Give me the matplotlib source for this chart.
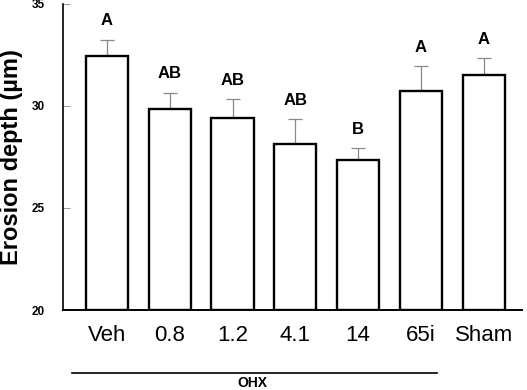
import matplotlib.pyplot as plt

groups = ["Veh", "0.8", "1.2", "4.1", "14", "65i", "Sham"]
depth = [32.45, 29.85, 29.4, 28.15, 27.35, 30.75, 31.5]
err = [0.8, 0.8, 0.95, 1.2, 0.6, 1.2, 0.85]
letters = ["A", "AB", "AB", "AB", "B", "A", "A"]

plt.rcParams["font.family"] = ["Liberation Sans", "DejaVu Sans"]

fig = plt.figure(figsize=(5.27, 3.90), dpi=100)
ax = fig.add_axes([0.1195, 0.205, 0.871, 0.785])

x = range(len(groups))
ax.bar(x, [d - 20 for d in depth], bottom=20, width=0.67,
       color="white", edgecolor="black", linewidth=1.7, zorder=2)
ax.errorbar(x, depth, yerr=[[0] * len(err), err], fmt="none",
            ecolor="#888888", elinewidth=0.9, capsize=5, capthick=0.9, zorder=1)

for i, (d, e, t) in enumerate(zip(depth, err, letters)):
    ax.text(i, d + e + 0.55, t, ha="center", va="bottom",
            fontsize=12, fontweight="bold")

ax.set_xlim(-0.70, 6.61)
ax.set_ylim(20, 35)
ax.set_yticks([20, 25, 30, 35])
ax.set_yticklabels(["20", "25", "30", "35"], fontsize=8.5, fontweight="bold")
ax.set_xticks(list(x))
ax.set_xticklabels(groups, fontsize=16)
ax.tick_params(axis="x", length=0, pad=11)
ax.tick_params(axis="y", direction="in", length=5, width=0.6,
               color="#888888", pad=13)

ax.spines["top"].set_visible(False)
ax.spines["right"].set_visible(False)
ax.spines["left"].set_linewidth(1.2)
ax.spines["bottom"].set_linewidth(1.4)

fig.text(12 / 527, 1 - 157 / 390, "Erosion depth (\u00b5m)", rotation=90,
         ha="center", va="center", fontsize=17, fontweight="bold")

# OHX bracket under the treated groups
fig.add_artist(plt.Line2D([72 / 527, 437 / 527], [1 - 373 / 390, 1 - 373 / 390],
                          color="black", linewidth=1.2))
fig.text(252 / 527, 1 - 383 / 390, "OHX", ha="center", va="center",
         fontsize=10, fontweight="bold")

fig.savefig("out.png", dpi=100)
